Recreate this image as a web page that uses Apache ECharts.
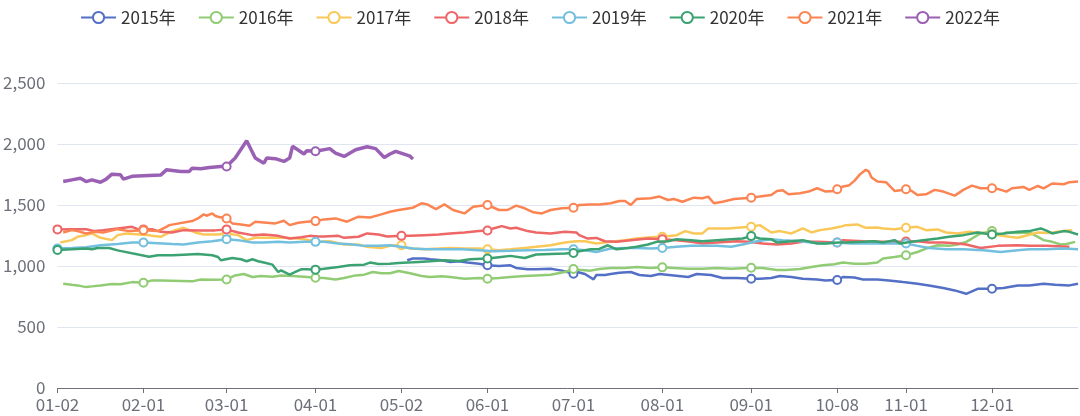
<!DOCTYPE html>
<html>
<head>
<meta charset="utf-8">
<script src="https://cdn.jsdelivr.net/npm/echarts@6/dist/echarts.min.js"></script>
<style>
html,body{margin:0;padding:0;background:#fff;}
#chart{width:1080px;height:416px;}
</style>
</head>
<body>
<div id="chart"></div>
<script>
// Category axis: trading-calendar dates (MM-DD) from 01-02 to 12-31, National Day 10-01..10-07 and 05-01 excluded
var monthRanges = [[1,2,31],[2,1,29],[3,1,31],[4,1,30],[5,2,31],[6,1,30],[7,1,31],[8,1,31],[9,1,30],[10,8,31],[11,1,30],[12,1,31]];
var categories = [];
monthRanges.forEach(function (m) {
  for (var d = m[1]; d <= m[2]; d++) {
    categories.push((m[0] < 10 ? '0' : '') + m[0] + '-' + (d < 10 ? '0' : '') + d);
  }
});

var legendNames = ['2015年','2016年','2017年','2018年','2019年','2020年','2021年','2022年'];
var yTicks = [0, 500, 1000, 1500, 2000, 2500];

var s2015 = [["05-04",1047],["05-06",1061],["05-10",1061],["05-12",1055],["05-16",1047],["05-19",1033],["05-22",1039],["05-25",1028],["05-29",1019],["06-01",1006],["06-05",1000],["06-09",1006],["06-11",984],["06-15",973],["06-18",973],["06-23",978],["06-27",962],["07-01",937],["07-02",953],["07-05",934],["07-08",890],["07-09",926],["07-12",926],["07-14",934],["07-17",945],["07-21",951],["07-24",926],["07-28",918],["07-31",934],["08-05",923],["08-10",910],["08-13",934],["08-18",926],["08-22",901],["08-27",901],["09-01",896],["09-04",896],["09-08",901],["09-11",918],["09-15",910],["09-19",896],["09-24",890],["09-27",882],["09-30",885],["10-08",885],["10-10",910],["10-14",905],["10-17",890],["10-22",890],["10-26",882],["10-31",868],["11-05",855],["11-09",841],["11-14",819],["11-18",800],["11-22",772],["11-26",813],["12-01",813],["12-05",819],["12-10",841],["12-14",841],["12-19",855],["12-23",846],["12-28",841],["12-31",855]];

var s2016 = [["01-04",855],["01-07",846],["01-09",841],["01-12",827],["01-14",833],["01-17",841],["01-21",852],["01-24",850],["01-28",868],["02-01",863],["02-04",882],["02-07",882],["02-18",874],["02-21",890],["02-25",888],["03-01",890],["03-04",923],["03-07",934],["03-10",910],["03-13",918],["03-17",912],["03-20",923],["03-24",918],["03-28",912],["04-01",904],["04-04",902],["04-08",890],["04-11",901],["04-15",923],["04-18",929],["04-21",951],["04-24",940],["04-27",940],["04-30",959],["05-05",940],["05-09",918],["05-12",910],["05-16",915],["05-19",910],["05-24",896],["05-29",901],["06-01",896],["06-05",901],["06-09",910],["06-14",918],["06-18",923],["06-23",929],["06-28",951],["07-01",975],["07-03",970],["07-07",962],["07-10",975],["07-14",984],["07-19",984],["07-23",992],["07-28",984],["08-01",989],["08-05",984],["08-10",978],["08-15",978],["08-20",984],["08-25",978],["09-01",986],["09-05",984],["09-10",967],["09-13",967],["09-18",975],["09-22",992],["09-26",1006],["09-30",1015],["10-10",1028],["10-14",1019],["10-18",1019],["10-22",1028],["10-24",1061],["10-28",1074],["11-01",1088],["11-05",1115],["11-08",1143],["11-12",1170],["11-16",1165],["11-19",1176],["11-22",1198],["11-24",1225],["11-27",1267],["12-01",1286],["12-04",1253],["12-06",1275],["12-10",1270],["12-14",1275],["12-17",1239],["12-19",1212],["12-22",1198],["12-25",1176],["12-27",1180],["12-30",1198]];

var s2017 = [["01-03",1192],["01-07",1212],["01-09",1239],["01-12",1253],["01-14",1267],["01-17",1231],["01-21",1212],["01-23",1253],["01-26",1267],["02-03",1253],["02-04",1247],["02-07",1239],["02-11",1286],["02-15",1313],["02-19",1275],["02-22",1258],["02-27",1258],["03-01",1267],["03-05",1253],["03-08",1212],["03-11",1231],["03-15",1231],["03-21",1231],["03-26",1225],["03-30",1212],["04-03",1198],["04-06",1203],["04-11",1176],["04-16",1176],["04-19",1157],["04-24",1148],["04-27",1165],["05-02",1170],["05-05",1143],["05-10",1137],["05-15",1143],["05-19",1148],["05-24",1143],["05-29",1143],["06-01",1137],["06-05",1129],["06-09",1137],["06-14",1148],["06-18",1157],["06-23",1170],["06-28",1192],["07-02",1203],["07-05",1203],["07-09",1184],["07-14",1198],["07-19",1212],["07-23",1225],["07-28",1236],["08-01",1240],["08-06",1253],["08-09",1286],["08-12",1267],["08-15",1267],["08-17",1308],["08-20",1308],["08-24",1308],["08-27",1313],["09-01",1321],["09-04",1335],["09-08",1275],["09-11",1286],["09-15",1267],["09-19",1308],["09-22",1275],["09-25",1294],["09-29",1308],["10-09",1321],["10-11",1335],["10-15",1341],["10-18",1313],["10-22",1315],["10-24",1308],["10-28",1302],["11-01",1313],["11-05",1321],["11-08",1294],["11-12",1300],["11-15",1275],["11-19",1267],["11-23",1280],["11-28",1270],["12-01",1260],["12-03",1253],["12-07",1239],["12-10",1231],["12-13",1250],["12-17",1275],["12-21",1270],["12-26",1286],["12-29",1294]];

var s2018 = [["01-02",1300],["01-07",1302],["01-12",1302],["01-15",1286],["01-18",1294],["01-23",1308],["01-28",1321],["01-30",1302],["02-01",1300],["02-04",1302],["02-07",1280],["02-11",1275],["02-15",1294],["02-21",1292],["02-26",1292],["03-01",1300],["03-05",1275],["03-10",1253],["03-14",1258],["03-19",1247],["03-23",1225],["03-27",1236],["03-30",1247],["04-02",1242],["04-04",1242],["04-09",1247],["04-11",1231],["04-16",1240],["04-19",1267],["04-23",1258],["04-26",1242],["05-02",1247],["05-05",1247],["05-10",1253],["05-15",1258],["05-19",1267],["05-24",1275],["05-29",1286],["06-01",1291],["06-03",1308],["06-06",1327],["06-09",1308],["06-11",1313],["06-15",1286],["06-18",1275],["06-23",1267],["06-28",1280],["07-02",1275],["07-03",1253],["07-06",1225],["07-09",1230],["07-12",1203],["07-16",1198],["07-21",1212],["07-27",1225],["08-01",1220],["08-06",1212],["08-11",1198],["08-15",1184],["08-20",1192],["08-27",1203],["08-31",1198],["09-05",1184],["09-10",1176],["09-15",1184],["09-19",1198],["09-24",1198],["10-08",1192],["10-10",1212],["10-17",1203],["10-23",1198],["10-29",1198],["11-01",1200],["11-05",1203],["11-09",1192],["11-14",1192],["11-19",1184],["11-22",1176],["11-27",1148],["12-03",1165],["12-10",1170],["12-14",1165],["12-20",1165],["12-28",1157]];

var s2019 = [["01-02",1143],["01-07",1148],["01-12",1154],["01-17",1170],["01-23",1181],["01-28",1192],["02-01",1192],["02-11",1180],["02-15",1176],["02-20",1192],["02-25",1203],["03-01",1220],["03-05",1212],["03-10",1192],["03-14",1192],["03-19",1198],["03-23",1192],["03-28",1198],["04-01",1198],["04-04",1198],["04-09",1184],["04-13",1179],["04-18",1165],["04-23",1165],["04-27",1170],["04-30",1160],["05-06",1143],["05-11",1137],["05-17",1137],["05-23",1137],["05-29",1129],["06-03",1121],["06-09",1124],["06-15",1129],["06-21",1132],["06-27",1137],["07-01",1137],["07-05",1129],["07-09",1115],["07-14",1143],["07-19",1148],["07-23",1148],["07-28",1143],["08-01",1148],["08-06",1157],["08-11",1165],["08-15",1165],["08-20",1165],["08-25",1157],["08-29",1176],["09-03",1203],["09-08",1220],["09-12",1212],["09-17",1205],["09-22",1192],["09-26",1184],["10-08",1192],["10-13",1184],["10-17",1184],["10-23",1184],["11-01",1184],["11-05",1165],["11-09",1148],["11-15",1137],["11-21",1137],["11-28",1129],["12-04",1115],["12-10",1129],["12-14",1137],["12-20",1137],["12-26",1143],["12-31",1137]];

var s2020 = [["01-02",1132],["01-07",1137],["01-12",1143],["01-14",1137],["01-16",1148],["01-20",1148],["01-23",1128],["02-03",1076],["02-06",1088],["02-11",1088],["02-15",1093],["02-20",1099],["02-25",1088],["02-27",1074],["02-28",1047],["03-03",1066],["03-06",1055],["03-08",1039],["03-10",1055],["03-12",1039],["03-14",1028],["03-17",1011],["03-19",951],["03-20",964],["03-23",929],["03-25",951],["03-27",973],["03-29",973],["04-01",970],["04-04",978],["04-09",992],["04-13",1006],["04-18",1011],["04-20",1028],["04-23",1016],["04-27",1019],["04-30",1025],["05-06",1030],["05-08",1033],["05-12",1039],["05-17",1047],["05-22",1041],["05-26",1055],["06-01",1061],["06-05",1072],["06-09",1083],["06-14",1066],["06-18",1094],["06-23",1099],["06-28",1102],["07-01",1107],["07-03",1121],["07-07",1137],["07-10",1140],["07-13",1170],["07-16",1137],["07-20",1148],["07-23",1157],["07-27",1176],["07-30",1198],["08-03",1203],["08-06",1220],["08-11",1212],["08-15",1203],["08-20",1212],["08-25",1220],["08-29",1225],["09-01",1245],["09-04",1225],["09-08",1220],["09-10",1192],["09-15",1203],["09-19",1212],["09-24",1184],["09-27",1184],["09-30",1190],["10-09",1192],["10-11",1192],["10-17",1198],["10-21",1203],["10-24",1192],["10-28",1212],["10-30",1184],["11-03",1198],["11-07",1212],["11-12",1225],["11-16",1239],["11-21",1253],["11-26",1275],["12-01",1258],["12-05",1267],["12-10",1280],["12-14",1286],["12-18",1308],["12-20",1290],["12-22",1267],["12-26",1286],["12-28",1280],["12-31",1258]];

var s2021 = [["01-04",1275],["01-07",1294],["01-09",1286],["01-12",1267],["01-15",1280],["01-18",1275],["01-23",1302],["01-27",1286],["02-01",1294],["02-06",1286],["02-09",1321],["02-10",1335],["02-18",1368],["02-20",1390],["02-22",1423],["02-23",1412],["02-25",1431],["02-26",1412],["02-27",1404],["03-01",1390],["03-03",1349],["03-06",1341],["03-09",1330],["03-11",1363],["03-14",1357],["03-18",1349],["03-21",1371],["03-23",1335],["03-26",1354],["03-29",1363],["04-01",1368],["04-04",1382],["04-08",1390],["04-12",1363],["04-16",1404],["04-20",1398],["04-24",1423],["04-27",1445],["04-30",1459],["05-06",1478],["05-09",1514],["05-11",1505],["05-14",1467],["05-17",1505],["05-20",1459],["05-24",1431],["05-27",1486],["06-01",1500],["06-05",1459],["06-08",1459],["06-11",1495],["06-14",1473],["06-17",1440],["06-20",1431],["06-23",1459],["06-27",1473],["07-01",1478],["07-03",1500],["07-07",1505],["07-10",1505],["07-14",1514],["07-17",1533],["07-19",1533],["07-21",1500],["07-23",1549],["07-28",1555],["07-31",1569],["08-03",1541],["08-05",1549],["08-08",1527],["08-12",1560],["08-15",1555],["08-17",1569],["08-19",1514],["08-22",1527],["08-26",1549],["09-01",1560],["09-04",1569],["09-08",1582],["09-10",1615],["09-12",1621],["09-14",1588],["09-18",1596],["09-21",1610],["09-24",1637],["09-27",1610],["09-30",1615],["10-08",1629],["10-10",1651],["10-12",1659],["10-14",1698],["10-16",1753],["10-18",1788],["10-19",1775],["10-20",1725],["10-22",1692],["10-25",1687],["10-28",1615],["10-30",1620],["11-01",1629],["11-03",1615],["11-05",1582],["11-08",1588],["11-11",1624],["11-14",1610],["11-18",1577],["11-21",1624],["11-24",1659],["11-27",1637],["12-01",1637],["12-03",1632],["12-06",1610],["12-08",1637],["12-12",1648],["12-14",1624],["12-17",1656],["12-19",1637],["12-22",1676],["12-26",1670],["12-28",1687],["12-31",1692]];

var s2022 = [["01-04",1692],["01-07",1706],["01-10",1720],["01-12",1692],["01-14",1706],["01-17",1687],["01-19",1712],["01-21",1753],["01-24",1747],["01-25",1712],["01-28",1735],["02-07",1745],["02-09",1788],["02-14",1775],["02-17",1775],["02-18",1802],["02-21",1797],["02-24",1808],["02-28",1816],["03-01",1816],["03-03",1863],["03-04",1885],["03-08",2027],["03-11",1885],["03-14",1843],["03-15",1885],["03-18",1880],["03-21",1857],["03-23",1885],["03-24",1981],["03-28",1918],["03-29",1945],["04-01",1940],["04-06",1962],["04-08",1926],["04-11",1898],["04-15",1953],["04-19",1978],["04-22",1962],["04-25",1890],["04-27",1918],["04-29",1940],["05-05",1900],["05-06",1876]];

var seriesValues = [s2015, s2016, s2017, s2018, s2019, s2020, s2021, s2022];
var colors = ['#5470c6','#91cc75','#fac858','#ee6666','#73c0de','#3ba272','#fc8452','#9a60b4'];

function isMonthStart(idx) {
  return idx === 0 || categories[idx].slice(0, 2) !== categories[idx - 1].slice(0, 2);
}

var chart = echarts.init(document.getElementById('chart'), null, {renderer: 'canvas'});
chart.setOption({
  animation: false,
  color: colors,
  legend: {
    data: legendNames,
    top: 4,
    left: 'center',
    itemWidth: 35,
    itemHeight: 14,
    itemGap: 22,
    textStyle: {fontSize: 17, color: '#333', fontFamily: 'Noto Sans CJK SC'}
  },
  grid: {left: 56, right: 2, top: 83, bottom: 28, containLabel: false},
  xAxis: {
    type: 'category',
    boundaryGap: false,
    data: categories,
    axisLine: {show: true, lineStyle: {color: '#6E7079'}},
    axisTick: {show: true, interval: function (i) { return isMonthStart(i); }, length: 5, lineStyle: {color: '#6E7079'}},
    axisLabel: {
      interval: function (i) { return isMonthStart(i); },
      color: '#6E7079', fontSize: 17, margin: 8, fontFamily: 'Noto Sans CJK SC'
    },
    splitLine: {show: false}
  },
  yAxis: {
    type: 'value',
    min: yTicks[0],
    max: yTicks[yTicks.length - 1],
    interval: yTicks[1] - yTicks[0],
    axisLine: {show: false},
    axisTick: {show: false},
    axisLabel: {color: '#6E7079', fontSize: 17, margin: 12, fontFamily: 'Noto Sans CJK SC',
      formatter: function (v) { return v.toLocaleString('en-US'); }},
    splitLine: {show: true, lineStyle: {color: '#E0E6F1', width: 1}}
  },
  series: seriesValues.map(function (vals, k) {
    return {
      name: legendNames[k],
      type: 'line',
      data: vals,
      showSymbol: true,
      symbol: 'emptyCircle',
      symbolSize: 8,
      smooth: false,
      lineStyle: {width: k === 7 ? 3.5 : 2.5, color: colors[k]},
      itemStyle: {color: colors[k], borderWidth: 2},
      z: 2 + k
    };
  })
});
</script>
</body>
</html>
